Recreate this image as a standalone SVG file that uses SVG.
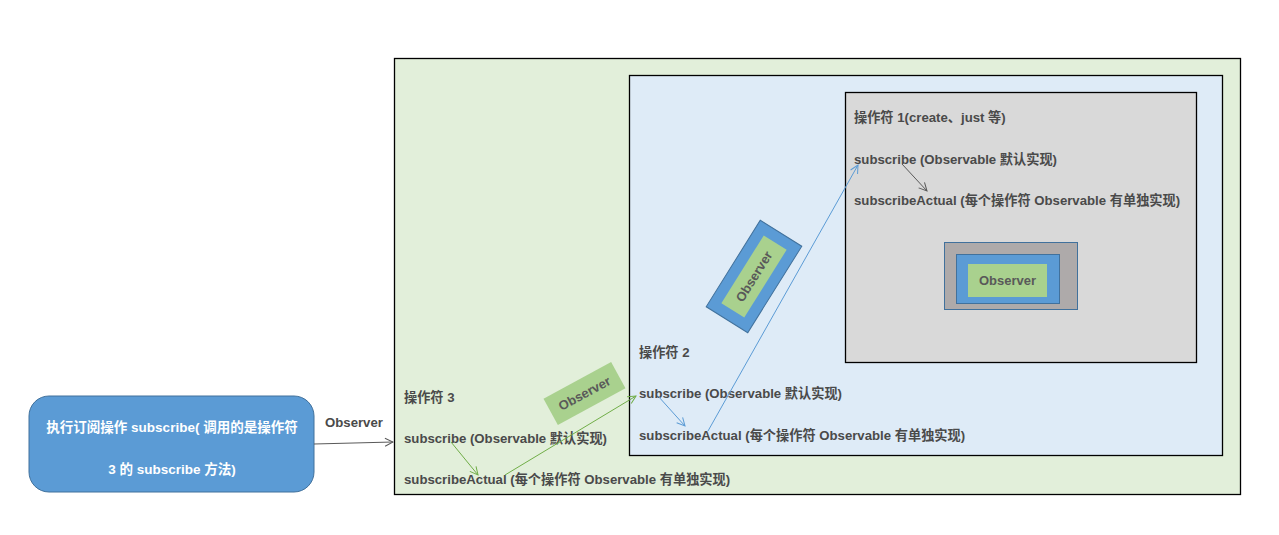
<svg xmlns="http://www.w3.org/2000/svg" width="1279" height="535" viewBox="0 0 1279 535">
<defs>
<style>
.t{font-family:"Liberation Sans","Noto Sans CJK SC",Arial,sans-serif;font-weight:bold;font-size:13.2px;fill:#4a4a4a}
.w{font-family:"Liberation Sans","Noto Sans CJK SC",Arial,sans-serif;font-weight:bold;font-size:13.5px;fill:#ffffff}
.obs{font-family:"Liberation Sans","Noto Sans CJK SC",Arial,sans-serif;font-weight:bold;font-size:13px;fill:#595959}
.frame{stroke:#000;stroke-width:1.3}
</style>
<marker id="ag" markerWidth="10" markerHeight="10" refX="9" refY="5" orient="auto" markerUnits="userSpaceOnUse"><path d="M1,1 L9,5 L1,9" fill="none" stroke="#70ad47" stroke-width="1"/></marker>
<marker id="ab" markerWidth="10" markerHeight="10" refX="9" refY="5" orient="auto" markerUnits="userSpaceOnUse"><path d="M1,1 L9,5 L1,9" fill="none" stroke="#5b9bd5" stroke-width="1"/></marker>
<marker id="ak" markerWidth="10" markerHeight="10" refX="9" refY="5" orient="auto" markerUnits="userSpaceOnUse"><path d="M1,1 L9,5 L1,9" fill="none" stroke="#595959" stroke-width="1"/></marker>
</defs>
<rect width="1279" height="535" fill="#ffffff"/>

<g id="op3">
<rect x="394.5" y="58.5" width="846" height="436" fill="#e2efda" class="frame"/>
<text class="t" x="404" y="402">操作符 3</text>
<text class="t" x="404" y="443">subscribe (Observable 默认实现)</text>
<text class="t" x="404" y="484">subscribeActual (每个操作符 Observable 有单独实现)</text>
</g>

<g id="op2">
<rect x="629.5" y="75.5" width="593" height="380" fill="#deebf7" class="frame"/>
<text class="t" x="639" y="357">操作符 2</text>
<text class="t" x="639" y="398">subscribe (Observable 默认实现)</text>
<text class="t" x="639" y="440">subscribeActual (每个操作符 Observable 有单独实现)</text>
</g>

<g id="op1">
<rect x="845.5" y="92.5" width="351" height="270" fill="#d9d9d9" class="frame"/>
<text class="t" x="854" y="122">操作符 1(create、just 等)</text>
<text class="t" x="854" y="164">subscribe (Observable 默认实现)</text>
<text class="t" x="854" y="205">subscribeActual (每个操作符 Observable 有单独实现)</text>
</g>

<g id="observer-inner">
<rect x="944.5" y="242.5" width="133" height="67" fill="#aeaaaa" stroke="#41719c" stroke-width="1"/>
<rect x="956.5" y="254.5" width="103" height="49" fill="#5b9bd5" stroke="#41719c" stroke-width="1"/>
<rect x="968" y="264" width="79" height="33" fill="#a9d18e"/>
<text class="obs" x="1007.5" y="285" text-anchor="middle">Observer</text>
</g>

<g id="observer-blue" transform="translate(754,276.5) rotate(-58)">
<rect x="-51" y="-24.5" width="102" height="49" fill="#5b9bd5" stroke="#41719c" stroke-width="1"/>
<rect x="-40" y="-13.5" width="80" height="27" fill="#a9d18e"/>
<text class="obs" x="0" y="4.5" text-anchor="middle">Observer</text>
</g>

<g id="observer-green" transform="translate(584.5,393.5) rotate(-28.6)">
<rect x="-38.5" y="-15" width="77" height="30" fill="#a9d18e"/>
<text class="obs" x="0" y="4.5" text-anchor="middle">Observer</text>
</g>

<g id="start">
<rect x="29" y="396" width="285" height="96" rx="20" ry="20" fill="#5b9bd5" stroke="#41719c" stroke-width="1"/>
<text class="w" x="172" y="432" text-anchor="middle">执行订阅操作 subscribe( 调用的是操作符</text>
<text class="w" x="172" y="474" text-anchor="middle">3 的 subscribe 方法)</text>
</g>

<g id="connectors" fill="none" stroke-width="1">
<line x1="314" y1="444" x2="393" y2="442" stroke="#595959" marker-end="url(#ak)"/>
<text class="t" x="325" y="427">Observer</text>
<line x1="451" y1="442" x2="478" y2="475" stroke="#70ad47" marker-end="url(#ag)"/>
<line x1="505" y1="475" x2="636" y2="396" stroke="#70ad47" marker-end="url(#ag)"/>
<line x1="658" y1="396" x2="685" y2="426" stroke="#5b9bd5" marker-end="url(#ab)"/>
<line x1="708" y1="431" x2="858" y2="165" stroke="#5b9bd5" marker-end="url(#ab)"/>
<line x1="902" y1="164" x2="927" y2="191" stroke="#595959" marker-end="url(#ak)"/>
</g>
</svg>
